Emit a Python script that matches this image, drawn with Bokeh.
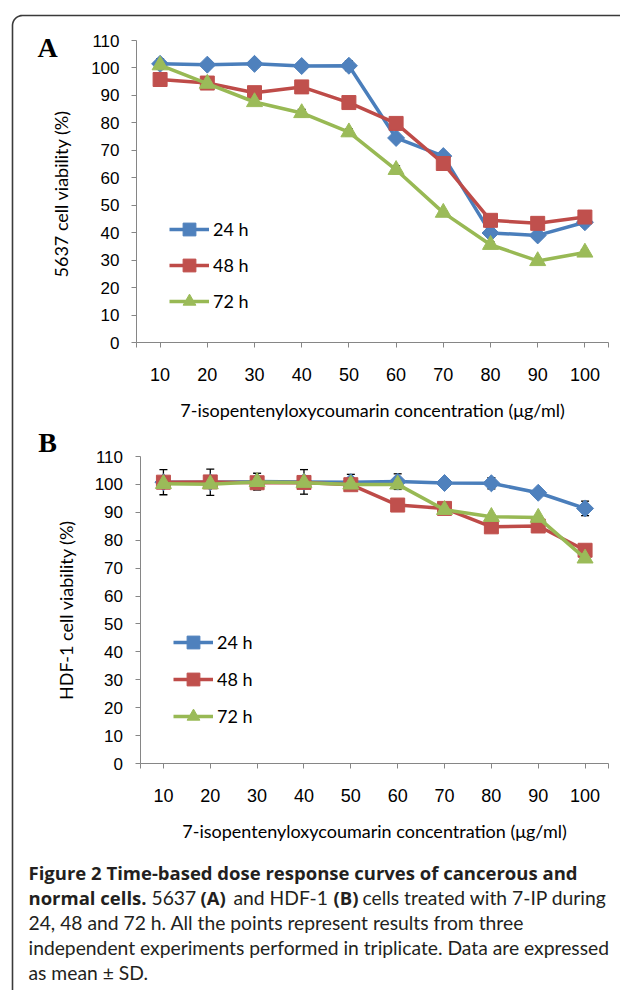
import numpy as np
from bokeh.plotting import figure
from bokeh.models import (Range1d, FixedTicker, Legend, LegendItem, LinearAxis,
                          Whisker, ColumnDataSource, TeeHead)
from bokeh.embed import file_html
from bokeh.resources import INLINE
from bokeh.core.properties import value

# ---------------- data ----------------
concentrations = ["10", "20", "30", "40", "50", "60", "70", "80", "90", "100"]
y_ticks = [0, 10, 20, 30, 40, 50, 60, 70, 80, 90, 100, 110]
series_names = ["24 h", "48 h", "72 h"]

# Panel A: 5637 cells
a_24 = [101.5, 101.2, 101.5, 100.7, 100.8, 74.5, 67.9, 39.9, 39.0, 43.8]
a_48 = [95.8, 94.5, 91.0, 93.1, 87.4, 79.8, 65.2, 44.5, 43.4, 45.7]
a_72 = [101.0, 94.3, 87.6, 83.6, 76.6, 62.9, 47.3, 35.6, 29.7, 32.8]
a_24_sd = [1.8, 0.4, 1.0, 0.3, 1.8, 0.5, 0.5, 0.8, 0.5, 1.5]
a_48_sd = [0.5, 0.4, 0.5, 0.5, 0.5, 0.5, 0.5, 0.5, 0.5, 0.5]
a_72_sd = [0.5, 0.3, 0.4, 1.3, 1.2, 1.4, 0.5, 1.0, 0.9, 1.0]

# Panel B: HDF-1 cells
b_24 = [100.8, 100.8, 101.0, 100.9, 100.8, 101.0, 100.5, 100.4, 97.0, 91.4]
b_48 = [100.8, 100.9, 100.6, 100.7, 99.9, 92.6, 91.4, 84.8, 85.1, 76.4]
b_72 = [100.2, 100.1, 100.9, 100.6, 100.0, 100.0, 90.9, 88.4, 88.1, 73.5]
b_24_sd = [4.5, 4.7, 3.0, 4.4, 2.8, 2.8, 0.5, 2.0, 0.8, 2.6]
b_48_sd = [0.5, 0.5, 0.5, 0.5, 0.5, 0.5, 0.5, 0.5, 0.5, 0.5]
b_72_sd = [0.5, 0.5, 0.5, 0.5, 0.5, 0.5, 0.5, 0.5, 0.5, 0.5]

x_title = "7-isopentenyloxycoumarin concentration (\u03bcg/ml)"
y_title_a = "5637 cell  viability (%)"
y_title_b = "HDF-1 cell viability (%)"

caption_segments = [
    # (text, x, line index, bold)
    ("Figure 2 Time-based dose response curves of cancerous and", 28, 0, True),
    ("normal cells.", 28, 1, True),
    ("5637", 151, 1, False),
    ("(A)", 200, 1, True),
    ("and HDF-1", 233, 1, False),
    ("(B)", 333, 1, True),
    ("cells treated with 7-IP during", 362, 1, False),
    ("24, 48 and 72 h. All the points represent results from three", 28, 2, False),
    ("independent experiments performed in triplicate. Data are expressed", 28, 3, False),
    ("as mean \u00b1 SD.", 28, 4, False),
]

# ---------------- styling ----------------
line_colors = ["#4A7EBB", "#BE4B48", "#98B954"]
fill_colors = ["#4F81BD", "#C0504D", "#9BBB59"]
markers = ["square", "square", "triangle"]
angles = [np.pi / 4, 0.0, 0.0]
msizes = [12, 14, 16]
AXIS_GRAY = "#868686"
BORDER = "#3a3a3a"
TXT = "#231f20"

# page (window-pixel) coordinate system for the whole canvas
PX0, PX1, PY0, PY1 = 0, 620, 0, 990
p = figure(width=PX1 - PX0, height=PY1 - PY0, output_backend="svg",
           toolbar_location=None, x_range=Range1d(PX0, PX1),
           y_range=Range1d(PY1, PY0), x_axis_type=None, y_axis_type=None,
           min_border=0)
p.outline_line_color = None
p.grid.visible = False
p.background_fill_color = "white"
p.border_fill_color = "white"

# frame border (rounded box, open to the right)
r = 10
t = np.linspace(np.pi, 1.5 * np.pi, 12)
bx = [12] + list(12 + r + r * np.cos(t)) + [700]
by = [1000] + list(15 + r + r * np.sin(t)) + [15]
p.line(bx, by, line_color=BORDER, line_width=1.6)


def add_panel(name, vals, sds, ylabel, letter, L, R, B0, T110, letter_xy,
              legend_xy, leg_spacing, ylab_standoff):
    k = (R - L) / 10.0
    xs_start = 0.5 - (L - PX0) / k
    xs_end = 10.5 + (PX1 - R) / k
    m = (B0 - T110) / 110.0
    ys_start = 0 - (PY1 - B0) / m
    ys_end = 110 + (T110 - PY0) / m
    xr, yr = "x_" + name, "y_" + name
    p.extra_x_ranges[xr] = Range1d(xs_start, xs_end)
    p.extra_y_ranges[yr] = Range1d(ys_start, ys_end)

    xs = list(range(1, len(concentrations) + 1))
    overrides = {i: c for i, c in zip(xs, concentrations)}
    overrides[0.5] = ""
    overrides[10.5] = ""
    xa = LinearAxis(x_range_name=xr, fixed_location=B0, bounds=(0.5, 10.5),
                    ticker=FixedTicker(ticks=[0.5] + xs + [10.5]),
                    major_label_overrides=overrides)
    ya = LinearAxis(y_range_name=yr, fixed_location=L, bounds=(0, 110),
                    ticker=FixedTicker(ticks=y_ticks))
    for ax in (xa, ya):
        ax.axis_line_color = AXIS_GRAY
        ax.major_tick_line_color = AXIS_GRAY
        ax.major_tick_out = 5
        ax.major_tick_in = 0
        ax.minor_tick_out = 0
        ax.minor_tick_in = 0
        ax.major_label_text_font = "Liberation Sans"
        ax.major_label_text_color = "black"
        ax.axis_label_text_font = "Lato"
        ax.axis_label_text_font_style = "normal"
        ax.axis_label_text_font_size = "18px"
        ax.axis_label_text_color = "black"
    xa.major_label_text_font_size = "18px"
    ya.major_label_text_font_size = "17px"
    xa.major_label_standoff = 20
    ya.major_label_standoff = 12
    xa.axis_label = x_title
    xa.axis_label_standoff = 15
    ya.axis_label = ylabel
    ya.axis_label_standoff = ylab_standoff
    p.add_layout(xa, "below")
    p.add_layout(ya, "left")

    for j in range(3):
        src = ColumnDataSource(dict(x=xs,
                                    upper=[v + s for v, s in zip(vals[j], sds[j])],
                                    lower=[v - s for v, s in zip(vals[j], sds[j])]))
        p.add_layout(Whisker(base="x", upper="upper", lower="lower", source=src,
                             x_range_name=xr, y_range_name=yr,
                             line_color="black", line_width=1.3,
                             upper_head=TeeHead(size=8, line_color="black", line_width=1.3),
                             lower_head=TeeHead(size=8, line_color="black", line_width=1.3)))
    items = []
    for j in range(3):
        src = ColumnDataSource(dict(x=xs, y=vals[j]))
        ln = p.line("x", "y", source=src, line_color=line_colors[j], line_width=3.5,
                    line_join="round", x_range_name=xr, y_range_name=yr)
        sc = p.scatter("x", "y", source=src, marker=markers[j], size=msizes[j],
                       angle=angles[j], fill_color=fill_colors[j],
                       line_color=fill_colors[j], line_width=1,
                       x_range_name=xr, y_range_name=yr)
        items.append(LegendItem(label=series_names[j], renderers=[ln, sc]))

    p.add_layout(Legend(items=items, location=legend_xy, orientation="vertical",
                        border_line_alpha=0, background_fill_alpha=0, padding=0,
                        margin=0, spacing=leg_spacing, glyph_width=40, glyph_height=32,
                        label_height=32, label_standoff=4, label_text_font="Lato",
                        label_text_font_size="18px", label_text_color="black"))

    p.text(x=[letter_xy[0]], y=[letter_xy[1]], text=[letter],
           text_font=value("Liberation Serif"), text_font_style="bold",
           text_font_size="28px", text_align="center", text_baseline="middle",
           text_color="black")


def legend_loc(x_left, y_bottom_item_center):
    return (x_left - PX0, PY1 - (y_bottom_item_center + 16))


add_panel("a", [a_24, a_48, a_72], [a_24_sd, a_48_sd, a_72_sd], y_title_a, "A",
          136, 608, 342, 40, (47, 47), legend_loc(169, 301), 4, 16)
add_panel("b", [b_24, b_48, b_72], [b_24_sd, b_48_sd, b_72_sd], y_title_b, "B",
          139.5, 608, 763, 456, (47, 442), legend_loc(173, 716), 5, 15)

# caption
line_y = [872, 897, 922, 947, 972]
for bold in (True, False):
    segs = [s for s in caption_segments if s[3] == bold]
    src = ColumnDataSource(dict(x=[s[1] for s in segs],
                                y=[line_y[s[2]] for s in segs],
                                t=[s[0] for s in segs]))
    p.text("x", "y", text="t", source=src,
           text_font=value("Open Sans" if bold else "Lato"),
           text_font_size="18.5px" if bold else "19.3px",
           text_font_style="bold" if bold else "normal",
           text_baseline="middle", text_align="left", text_color=TXT)

open("out.html", "w").write(file_html(p, INLINE))
